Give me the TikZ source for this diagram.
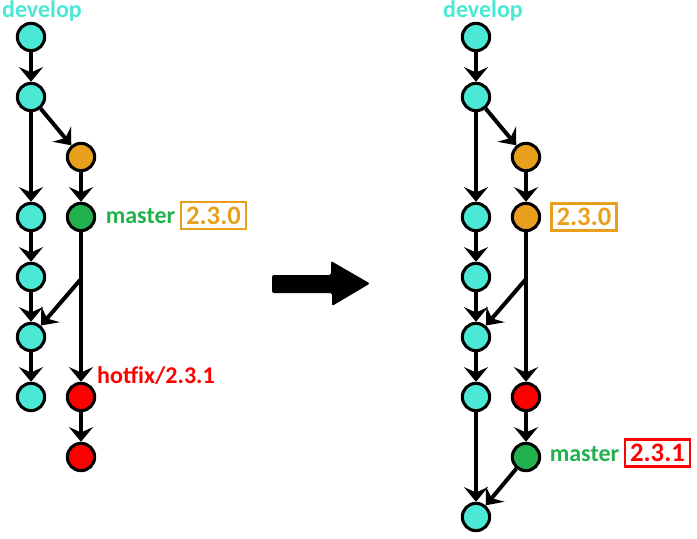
\documentclass[tikz,border=0pt]{standalone}
\usepackage{fontspec}
\setmainfont{Carlito}
\usetikzlibrary{arrows.meta}
\definecolor{color_develop}{HTML}{4AE8D5}
\definecolor{color_release}{HTML}{E8A01C}
\definecolor{color_master}{HTML}{22B14C}
\definecolor{color_hotfix}{HTML}{FF0000}
\def\commitsize{20.5pt}
\def\commitborder{2.3pt}
\def\edgewidth{3pt}
\def\labelfont{\fontsize{18}{20}\selectfont\bfseries}
\def\tagfont{\fontsize{20}{22}\selectfont\bfseries}
\tikzset{
    commit/.style={circle, draw=black, line width=\commitborder, minimum size=\commitsize, inner sep=0pt},
    flow/.style={line width=\edgewidth, -{Stealth[length=11pt, width=18pt, inset=4pt]}},
    branchlabel/.style={font=\labelfont, inner sep=0pt},
    tagbox/.style={draw, line width=1.8pt, font=\tagfont, minimum width=48.5pt, minimum height=20pt, inner sep=0pt}
}

\begin{document}
\begin{tikzpicture}[x=0.75pt, y=-0.75pt]
        \useasboundingbox (0,0) rectangle (697,539);
        % before: develop column
        \foreach \n/\y in {1/37,2/97,3/217,4/277,5/337,6/397}
            \node[commit, fill=color_develop] (l\n) at (31,\y) {};
        % before: release and hotfix column
        \node[commit, fill=color_release] (lrel) at (81,157) {};
        \node[commit, fill=color_master] (lmas) at (81,217) {};
        \node[commit, fill=color_hotfix] (lhot1) at (81,397) {};
        \node[commit, fill=color_hotfix] (lhot2) at (81,457) {};
        \coordinate (lmerge) at (81,279);
        \foreach \a/\b in {l1/l2,l2/l3,l3/l4,l4/l5,l5/l6,l2/lrel,lrel/lmas,lmas/lhot1,lhot1/lhot2,lmerge/l5}
            \draw[flow] (\a) -- (\b);
        \node[branchlabel, text=color_develop] (ldev) at (42,11) {develop};
        \node[branchlabel, text=color_master] (lmaslbl) at (140.5,216) {master};
        \node[tagbox, draw=color_release, text=color_release] (ltag) at (213.5,215.5) {2.3.0};
        \node[branchlabel, text=color_hotfix] (lhotlbl) at (156,376) {hotfix/2.3.1};
        % the big arrow
        \fill[black, rounded corners=1.5pt] (272,275) -- (331,275) -- (331,261) -- (370,283.5) -- (332,306) -- (332,293) -- (272,293) -- cycle;
        % after: develop column
        \foreach \n/\y in {1/37,2/97,3/217,4/277,5/337,6/397,7/517}
            \node[commit, fill=color_develop] (r\n) at (476,\y) {};
        % after: release and hotfix column
        \node[commit, fill=color_release] (rrel1) at (526,157) {};
        \node[commit, fill=color_release] (rrel2) at (526,217) {};
        \node[commit, fill=color_hotfix] (rhot) at (526,397) {};
        \node[commit, fill=color_master] (rmas) at (526,457) {};
        \coordinate (rmerge) at (526,279);
        \foreach \a/\b in {r1/r2,r2/r3,r3/r4,r4/r5,r5/r6,r6/r7,r2/rrel1,rrel1/rrel2,rrel2/rhot,rhot/rmas,rmerge/r5,rmas/r7}
            \draw[flow] (\a) -- (\b);
        \node[branchlabel, text=color_develop] (rdev) at (483,11) {develop};
        \node[tagbox, draw=color_release, text=color_release] (rtag1) at (584,217) {2.3.0};
        \node[branchlabel, text=color_master] (rmaslbl) at (584.5,454) {master};
        \node[tagbox, draw=color_hotfix, text=color_hotfix] (rtag2) at (657.5,453) {2.3.1};
\end{tikzpicture}
\end{document}
